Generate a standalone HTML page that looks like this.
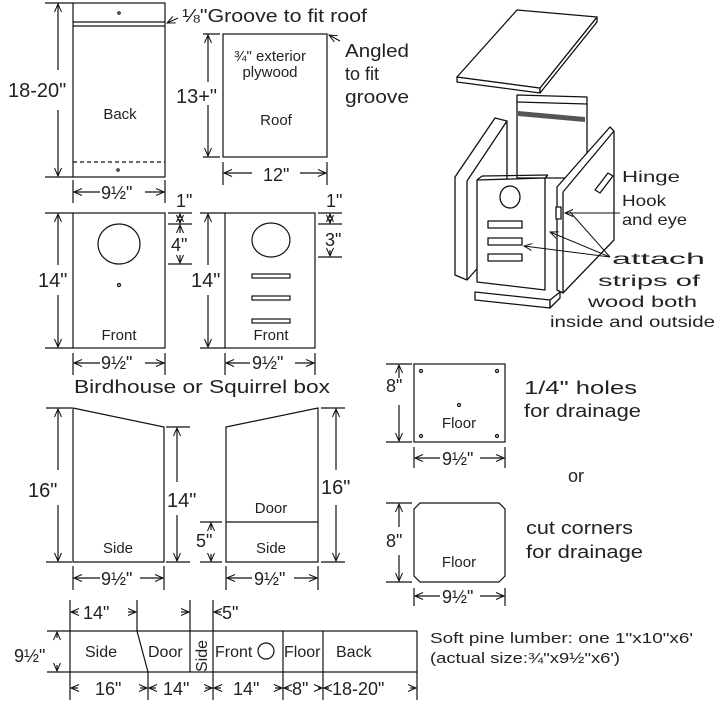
<!DOCTYPE html>
<html><head><meta charset="utf-8"><style>
html,body{margin:0;padding:0;background:#fff}
svg{display:block}
text{font-family:"Liberation Sans",sans-serif;fill:#222}
</style></head><body>
<svg width="722" height="716" viewBox="0 0 722 716" xmlns="http://www.w3.org/2000/svg">
<defs>
<marker id="a" markerWidth="10" markerHeight="8" refX="9" refY="4" orient="auto-start-reverse" markerUnits="userSpaceOnUse">
<path d="M1,0.5 L9,4 L1,7.5" fill="none" stroke="#111" stroke-width="1"/></marker>
</defs>
<g fill="none" stroke="#111" stroke-width="1.2">
<rect x="73" y="3" width="92" height="174"/>
<line x1="73" y1="22" x2="165" y2="22"/><line x1="73" y1="26" x2="165" y2="26"/>
<line x1="73" y1="162" x2="165" y2="162" stroke-dasharray="4,3"/>
<circle cx="119" cy="13" r="1.2"/><circle cx="118" cy="170" r="1.2"/>
<line x1="45" y1="3" x2="73" y2="3"/><line x1="45" y1="177" x2="73" y2="177"/>
<line x1="58" y1="4" x2="58" y2="70" marker-start="url(#a)"/><line x1="58" y1="110" x2="58" y2="176" marker-end="url(#a)"/>
<line x1="73" y1="180" x2="73" y2="203"/><line x1="165" y1="180" x2="165" y2="203"/>
<line x1="74" y1="192" x2="100" y2="192" marker-start="url(#a)"/><line x1="145" y1="192" x2="164" y2="192" marker-end="url(#a)"/>
<line x1="178" y1="18" x2="167" y2="23" marker-end="url(#a)"/>
<rect x="223" y="34" width="104" height="123"/>
<line x1="203" y1="34" x2="220" y2="34"/><line x1="203" y1="157" x2="220" y2="157"/>
<line x1="208" y1="35" x2="208" y2="82" marker-start="url(#a)"/><line x1="208" y1="105" x2="208" y2="156" marker-end="url(#a)"/>
<line x1="223" y1="162" x2="223" y2="185"/><line x1="327" y1="162" x2="327" y2="185"/>
<line x1="224" y1="173" x2="252" y2="173" marker-start="url(#a)"/><line x1="300" y1="173" x2="326" y2="173" marker-end="url(#a)"/>
<line x1="340" y1="41" x2="329" y2="35" marker-end="url(#a)"/>
<rect x="73" y="213" width="92" height="135"/>
<ellipse cx="119" cy="244" rx="21" ry="20"/><circle cx="119" cy="285" r="1.5"/>
<line x1="45" y1="213" x2="73" y2="213"/><line x1="45" y1="348" x2="73" y2="348"/>
<line x1="58" y1="214" x2="58" y2="265" marker-start="url(#a)"/><line x1="58" y1="295" x2="58" y2="347" marker-end="url(#a)"/>
<line x1="168" y1="213" x2="192" y2="213"/><line x1="168" y1="224" x2="192" y2="224"/><line x1="168" y1="264" x2="192" y2="264"/>
<line x1="180" y1="218" x2="180" y2="214" marker-end="url(#a)"/><line x1="180" y1="219" x2="180" y2="223" marker-end="url(#a)"/>
<line x1="180" y1="233" x2="180" y2="225" marker-end="url(#a)"/><line x1="180" y1="255" x2="180" y2="263" marker-end="url(#a)"/>
<line x1="73" y1="353" x2="73" y2="375"/><line x1="165" y1="353" x2="165" y2="375"/>
<line x1="74" y1="363" x2="100" y2="363" marker-start="url(#a)"/><line x1="145" y1="363" x2="164" y2="363" marker-end="url(#a)"/>
<rect x="225" y="213" width="90" height="135"/>
<ellipse cx="271" cy="240" rx="19" ry="17"/>
<rect x="252" y="274" width="38" height="4"/><rect x="252" y="296" width="38" height="4"/><rect x="252" y="319" width="38" height="4"/>
<line x1="200" y1="213" x2="225" y2="213"/><line x1="200" y1="348" x2="225" y2="348"/>
<line x1="208" y1="214" x2="208" y2="265" marker-start="url(#a)"/><line x1="208" y1="295" x2="208" y2="347" marker-end="url(#a)"/>
<line x1="318" y1="213" x2="342" y2="213"/><line x1="318" y1="224" x2="342" y2="224"/><line x1="318" y1="257" x2="342" y2="257"/>
<line x1="330" y1="218" x2="330" y2="214" marker-end="url(#a)"/><line x1="330" y1="219" x2="330" y2="223" marker-end="url(#a)"/>
<line x1="330" y1="250" x2="330" y2="256" marker-end="url(#a)"/>
<line x1="225" y1="353" x2="225" y2="375"/><line x1="315" y1="353" x2="315" y2="375"/>
<line x1="226" y1="363" x2="250" y2="363" marker-start="url(#a)"/><line x1="295" y1="363" x2="314" y2="363" marker-end="url(#a)"/>
<polygon points="73,408 164,427 164,562 73,562"/>
<line x1="46" y1="408" x2="72" y2="408"/><line x1="46" y1="562" x2="72" y2="562"/>
<line x1="58" y1="409" x2="58" y2="470" marker-start="url(#a)"/><line x1="58" y1="505" x2="58" y2="561" marker-end="url(#a)"/>
<line x1="166" y1="427" x2="190" y2="427"/><line x1="166" y1="562" x2="190" y2="562"/>
<line x1="177" y1="428" x2="177" y2="482" marker-start="url(#a)"/><line x1="177" y1="515" x2="177" y2="561" marker-end="url(#a)"/>
<line x1="73" y1="566" x2="73" y2="590"/><line x1="164" y1="566" x2="164" y2="590"/>
<line x1="74" y1="578" x2="100" y2="578" marker-start="url(#a)"/><line x1="140" y1="578" x2="163" y2="578" marker-end="url(#a)"/>
<polygon points="226,427 318,408 318,562 226,562"/>
<line x1="226" y1="522" x2="318" y2="522"/>
<line x1="200" y1="522" x2="222" y2="522"/><line x1="200" y1="562" x2="222" y2="562"/>
<line x1="211" y1="530" x2="211" y2="523" marker-end="url(#a)"/><line x1="211" y1="554" x2="211" y2="561" marker-end="url(#a)"/>
<line x1="321" y1="408" x2="345" y2="408"/><line x1="321" y1="562" x2="345" y2="562"/>
<line x1="336" y1="409" x2="336" y2="470" marker-start="url(#a)"/><line x1="336" y1="505" x2="336" y2="561" marker-end="url(#a)"/>
<line x1="226" y1="566" x2="226" y2="590"/><line x1="318" y1="566" x2="318" y2="590"/>
<line x1="227" y1="578" x2="252" y2="578" marker-start="url(#a)"/><line x1="294" y1="578" x2="317" y2="578" marker-end="url(#a)"/>
<rect x="414" y="364" width="91" height="78"/>
<circle cx="421" cy="371" r="1.5"/><circle cx="497" cy="371" r="1.5"/><circle cx="421" cy="436" r="1.5"/><circle cx="497" cy="436" r="1.5"/><circle cx="459" cy="405" r="1.5"/>
<line x1="386" y1="364" x2="412" y2="364"/><line x1="386" y1="442" x2="412" y2="442"/>
<line x1="399" y1="365" x2="399" y2="378" marker-start="url(#a)"/><line x1="399" y1="405" x2="399" y2="441" marker-end="url(#a)"/>
<line x1="414" y1="447" x2="414" y2="468"/><line x1="505" y1="447" x2="505" y2="468"/>
<line x1="415" y1="458" x2="440" y2="458" marker-start="url(#a)"/><line x1="480" y1="458" x2="504" y2="458" marker-end="url(#a)"/>
<polygon points="420,503 499,503 505,509 505,576 499,582 420,582 414,576 414,509"/>
<line x1="386" y1="503" x2="412" y2="503"/><line x1="386" y1="582" x2="412" y2="582"/>
<line x1="399" y1="504" x2="399" y2="527" marker-start="url(#a)"/><line x1="399" y1="555" x2="399" y2="581" marker-end="url(#a)"/>
<line x1="414" y1="588" x2="414" y2="606"/><line x1="505" y1="588" x2="505" y2="606"/>
<line x1="415" y1="596" x2="440" y2="596" marker-start="url(#a)"/><line x1="480" y1="596" x2="504" y2="596" marker-end="url(#a)"/>
<rect x="70" y="631" width="347" height="41"/>
<line x1="137" y1="631" x2="148" y2="672"/>
<line x1="190" y1="631" x2="190" y2="672"/><line x1="213" y1="631" x2="213" y2="672"/>
<line x1="283" y1="631" x2="283" y2="672"/><line x1="323" y1="631" x2="323" y2="672"/>
<circle cx="266" cy="651" r="8"/>
<line x1="70" y1="600" x2="70" y2="631"/><line x1="137" y1="600" x2="137" y2="631"/><line x1="190" y1="600" x2="190" y2="631"/><line x1="213" y1="600" x2="213" y2="631"/>
<line x1="78" y1="612" x2="71" y2="612" marker-end="url(#a)"/><line x1="128" y1="612" x2="136" y2="612" marker-end="url(#a)"/>
<line x1="181" y1="612" x2="189" y2="612" marker-end="url(#a)"/><line x1="221" y1="612" x2="214" y2="612" marker-end="url(#a)"/>
<line x1="47" y1="631" x2="70" y2="631"/><line x1="47" y1="672" x2="70" y2="672"/>
<line x1="57" y1="638" x2="57" y2="632" marker-end="url(#a)"/><line x1="57" y1="665" x2="57" y2="671" marker-end="url(#a)"/>
<line x1="70" y1="672" x2="70" y2="700"/><line x1="148" y1="672" x2="148" y2="700"/><line x1="213" y1="672" x2="213" y2="700"/><line x1="283" y1="672" x2="283" y2="700"/><line x1="323" y1="672" x2="323" y2="700"/><line x1="417" y1="672" x2="417" y2="700"/>
<line x1="78" y1="688" x2="71" y2="688" marker-end="url(#a)"/><line x1="140" y1="688" x2="147" y2="688" marker-end="url(#a)"/>
<line x1="156" y1="688" x2="149" y2="688" marker-end="url(#a)"/><line x1="205" y1="688" x2="212" y2="688" marker-end="url(#a)"/>
<line x1="221" y1="688" x2="214" y2="688" marker-end="url(#a)"/><line x1="275" y1="688" x2="282" y2="688" marker-end="url(#a)"/>
<line x1="289" y1="688" x2="284" y2="688" marker-end="url(#a)"/><line x1="318" y1="688" x2="322" y2="688" marker-end="url(#a)"/>
<line x1="329" y1="688" x2="324" y2="688" marker-end="url(#a)"/><line x1="410" y1="688" x2="416" y2="688" marker-end="url(#a)"/>
</g>
<g fill="#fff" stroke="#111" stroke-width="1.3" stroke-linejoin="round">
<polygon points="457,77 540,88 540,93 457,82"/>
<polygon points="540,88 597,17 597,22 540,93"/>
<polygon points="457,77 517,10 597,17 540,88"/>
<polygon points="517,95 587,97 587,178 517,178"/>
<line x1="517" y1="102" x2="587" y2="104"/>
<polygon points="455,177 495,118 507,121 507,235 467,280 455,275"/>
<line x1="467" y1="181" x2="467" y2="280"/><line x1="467" y1="181" x2="507" y2="121"/>
<polygon points="475,292 550,300 550,308 475,300"/>
<polygon points="550,300 560,292 560,298 550,308"/>
<polygon points="477,180 545,178 545,290 477,282"/>
<line x1="477" y1="180" x2="482" y2="176"/><line x1="482" y1="176" x2="548" y2="175"/><line x1="548" y1="175" x2="545" y2="178"/>
<ellipse cx="510" cy="197" rx="10" ry="11"/>
<rect x="488" y="221" width="34" height="7"/><rect x="488" y="238" width="34" height="7"/><rect x="488" y="254" width="34" height="7"/>
<polygon points="557,187 610,127 614,131 614,240 563,293 557,290"/>
<line x1="563" y1="192" x2="563" y2="293"/><line x1="563" y1="192" x2="614" y2="131"/>
<polygon points="595,190 608,173 613,176 600,193"/>
<rect x="556" y="207" width="5" height="12"/>
</g>
<polygon points="518,111 585,117 585,122 518,116" fill="#555"/>
<g stroke="#111" stroke-width="1" fill="none">
<line x1="620" y1="213" x2="565" y2="213" marker-end="url(#a)"/>
<line x1="610" y1="257" x2="524" y2="246" marker-end="url(#a)"/>
<line x1="610" y1="257" x2="550" y2="232" marker-end="url(#a)"/>
<line x1="610" y1="257" x2="570" y2="212"/>
</g>
<g font-size="20">
<text x="8" y="97">18-20"</text>
<text x="176" y="103">13+"</text>
<text x="38" y="287">14"</text>
<text x="191" y="287">14"</text>
<text x="28" y="497">16"</text>
<text x="167" y="507">14"</text>
<text x="321" y="494">16"</text>
</g>
<g font-size="18" lengthAdjust="spacingAndGlyphs">
<text x="182" y="22" textLength="185" lengthAdjust="spacingAndGlyphs">⅛"Groove to fit roof</text>
<text x="345" y="57" textLength="64" lengthAdjust="spacingAndGlyphs">Angled</text>
<text x="345" y="80">to fit</text>
<text x="345" y="103" textLength="64" lengthAdjust="spacingAndGlyphs">groove</text>
<text x="263" y="181">12"</text>
<text x="176" y="207">1"</text>
<text x="171" y="251">4"</text>
<text x="326" y="207">1"</text>
<text x="325" y="246">3"</text>
<text x="101" y="199">9½"</text>
<text x="101" y="369">9½"</text>
<text x="252" y="369">9½"</text>
<text x="101" y="585">9½"</text>
<text x="254" y="585">9½"</text>
<text x="442" y="465">9½"</text>
<text x="442" y="603">9½"</text>
<text x="196" y="547">5"</text>
<text x="386" y="392">8"</text>
<text x="386" y="547">8"</text>
<text x="74" y="393" textLength="256" lengthAdjust="spacingAndGlyphs">Birdhouse  or Squirrel box</text>
<text x="524" y="394" textLength="113" lengthAdjust="spacingAndGlyphs">1/4" holes</text>
<text x="524" y="417" textLength="117" lengthAdjust="spacingAndGlyphs">for drainage</text>
<text x="568" y="482">or</text>
<text x="526" y="534" textLength="107" lengthAdjust="spacingAndGlyphs">cut corners</text>
<text x="526" y="558" textLength="117" lengthAdjust="spacingAndGlyphs">for drainage</text>
<text x="83" y="619">14"</text>
<text x="222" y="619">5"</text>
<text x="14" y="662">9½"</text>
<text x="95" y="695">16"</text>
<text x="163" y="695">14"</text>
<text x="233" y="695">14"</text>
<text x="292" y="695">8"</text>
<text x="332" y="695">18-20"</text>
</g>
<g font-size="15" text-anchor="middle">
<text x="120" y="119">Back</text>
<text x="276" y="125">Roof</text>
<text x="270" y="61">¾" exterior</text>
<text x="270" y="77">plywood</text>
<text x="119" y="340">Front</text>
<text x="271" y="340">Front</text>
<text x="118" y="553">Side</text>
<text x="271" y="513">Door</text>
<text x="271" y="553">Side</text>
<text x="459" y="428">Floor</text>
<text x="459" y="567">Floor</text>
</g>
<g font-size="16">
<text x="85" y="657">Side</text>
<text x="148" y="657">Door</text>
<text x="215" y="657">Front</text>
<text x="284" y="657">Floor</text>
<text x="336" y="657">Back</text>
<text transform="translate(207,672) rotate(-90)">Side</text>
</g>
<g font-size="15">
<text x="430" y="643" textLength="263" lengthAdjust="spacingAndGlyphs">Soft pine lumber: one 1"x10"x6'</text>
<text x="430" y="663" textLength="190" lengthAdjust="spacingAndGlyphs">(actual size:¾"x9½"x6')</text>
</g>
<g font-size="16">
<text x="622" y="182" textLength="58" lengthAdjust="spacingAndGlyphs">Hinge</text>
<text x="622" y="206" textLength="44" lengthAdjust="spacingAndGlyphs">Hook</text>
<text x="622" y="225" textLength="65" lengthAdjust="spacingAndGlyphs">and eye</text>
<text x="612" y="264" textLength="93" lengthAdjust="spacingAndGlyphs">attach</text>
<text x="598" y="286" textLength="102" lengthAdjust="spacingAndGlyphs">strips of</text>
<text x="588" y="307" textLength="109" lengthAdjust="spacingAndGlyphs">wood both</text>
<text x="550" y="327" textLength="165" lengthAdjust="spacingAndGlyphs">inside and outside</text>
</g>
</svg>
</body></html>
